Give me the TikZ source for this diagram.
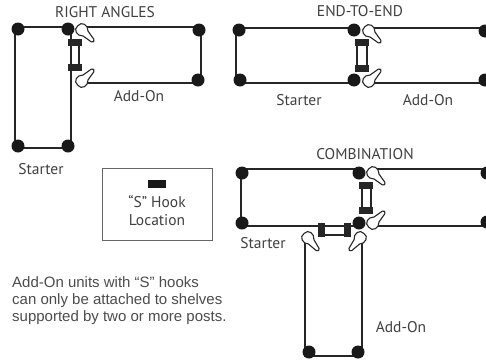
\documentclass[tikz,border=0pt]{standalone}
\usepackage{fontspec}
\setmainfont{PT Sans}
\newfontfamily\notefont{Liberation Sans}
\usepackage{xcolor}
\usetikzlibrary{positioning}

\begin{document}
\begin{tikzpicture}[
  x=1pt, y=-1pt,
  shelf/.style={line width=2pt,black!85},
  rail/.style={line width=1.6pt,black!85},
  post/.style={circle,fill=black!90,inner sep=0pt,minimum size=13pt},
  hookbar/.style={fill=black!85,draw=none,inner sep=0pt,minimum width=14pt,minimum height=7pt},
  hookbarv/.style={fill=black!85,draw=none,inner sep=0pt,minimum width=7pt,minimum height=14pt},
  label/.style={font=\fontsize{15.5}{17}\selectfont,text=black!75,inner sep=0pt},
  note/.style={font=\notefont\fontsize{15}{17}\selectfont,text=black!70,align=left,inner sep=0pt},
  bulb/.pic={
    \draw[fill=white,draw=black!85,line width=1.1pt] (5,-3.5) .. controls (1,-8) and (-7,-6) .. (-6,0)
      .. controls (-7,6) and (1,8) .. (5,3.5) -- (15,1.8) .. controls (17,1.8) and (17,-1.8) .. (15,-1.8) -- cycle;
  }
]
\useasboundingbox (0,0) rectangle (486,362);

% Right angles
\draw[shelf] (15,27) rectangle (71,148);
\draw[shelf] (80,27) -- (201,27) -- (201,83) -- (80,83);
\draw[rail] (79,41) -- (79,67);
\foreach \name/\x/\y in {ra1/18/29,ra2/68/29,ra3/18/146,ra4/68/146,ra5/199/30,ra6/198/80}
  \node[post] (\name) at (\x,\y) {};
\node[hookbar] (rabar1) at (75,42) {};
\node[hookbar] (rabar2) at (75,67) {};
\pic[rotate=-45] at (82,30) {bulb};
\pic[rotate=45] at (82,81) {bulb};

% End to end
\draw[shelf] (354,28) -- (236,28) -- (236,83) -- (354,83);
\draw[shelf] (365,28) -- (486,28);
\draw[shelf] (365,83) -- (486,83);
\draw[rail] (357,42) -- (357,68);
\draw[rail] (367,42) -- (367,68);
\foreach \name/\x/\y in {ee1/239/30,ee2/354/30,ee3/240/80,ee4/354/80,ee5/485/31,ee6/485/80}
  \node[post] (\name) at (\x,\y) {};
\node[hookbar] (eebar1) at (362,42) {};
\node[hookbar] (eebar2) at (362,68) {};
\pic[rotate=-45] at (369,31) {bulb};
\pic[rotate=45] at (369,81) {bulb};

% Combination
\draw[shelf] (359,169) -- (241,169) -- (241,226) -- (359,226);
\draw[shelf] (371,169) -- (486,169);
\draw[shelf] (375,226) -- (486,226);
\draw[rail] (362,185) -- (362,210);
\draw[rail] (371,185) -- (371,210);
\draw[rail] (321,235) -- (347,235);
\draw[shelf] (305,240) -- (305,356) -- (362,356) -- (362,240);
\foreach \name/\x/\y in {co1/242/173,co2/359/173,co3/242/223,co4/359/223,co5/309/352,co6/358/352,co7/487/173,co8/487/222}
  \node[post] (\name) at (\x,\y) {};
\node[hookbar] (cobar1) at (366,185) {};
\node[hookbar] (cobar2) at (366,210) {};
\node[hookbarv] (cobar3) at (321,230) {};
\node[hookbarv] (cobar4) at (347,230) {};
\pic[rotate=-45] at (373,173) {bulb};
\pic[rotate=45] at (373,223) {bulb};
\pic[rotate=-50] at (308,238) {bulb};
\pic[rotate=-130] at (360,238) {bulb};

% Legend
\draw[black!60,line width=0.8pt] (102,168) rectangle (212,240);
\node[fill=black!90,inner sep=0pt,minimum width=18pt,minimum height=8pt] (legendbar) at (157,184) {};
\node[label] (legendhook) at (157,202) {“S” Hook};
\node[label] (legendloc) at (157,220) {Location};

% Labels
\node[label] (titlera) at (105,12) {RIGHT ANGLES};
\node[label] (titleee) at (360,11) {END-TO-END};
\node[label] (titleco) at (365,154) {COMBINATION};
\node[label] (starterra) at (41,169) {Starter};
\node[label] (addonra) at (139,96) {Add-On};
\node[label] (starteree) at (299,100) {Starter};
\node[label] (addonee) at (428,100) {Add-On};
\node[label] (starterco) at (263,243) {Starter};
\node[label] (addonco) at (401,327) {Add-On};

% Note
\node[note,anchor=north west] (note) at (12,276) {Add-On units with “S” hooks\\can only be attached to shelves\\supported by two or more posts.};

\end{tikzpicture}
\end{document}
